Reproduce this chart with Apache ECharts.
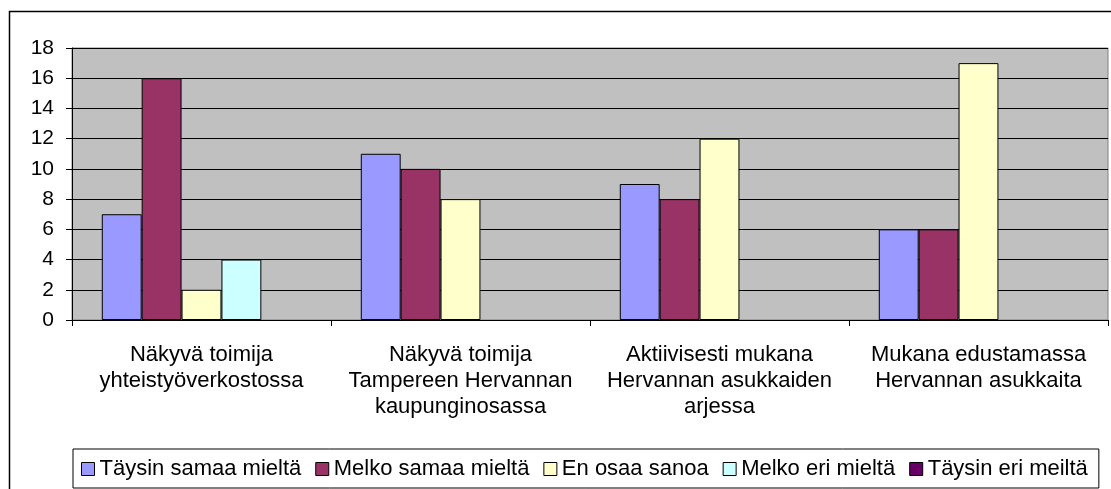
<!DOCTYPE html>
<html>
<head>
<meta charset="utf-8">
<script src="https://cdn.jsdelivr.net/npm/echarts@6/dist/echarts.min.js"></script>
<style>html,body{margin:0;padding:0;background:#fff;}#c{width:1111px;height:489px;}</style>
</head>
<body>
<div id="c"></div>
<script>
var categories = [
  'Näkyvä toimija\nyhteistyöverkostossa',
  'Näkyvä toimija\nTampereen Hervannan\nkaupunginosassa',
  'Aktiivisesti mukana\nHervannan asukkaiden\narjessa',
  'Mukana edustamassa\nHervannan asukkaita'
];
var seriesNames = ['Täysin samaa mieltä', 'Melko samaa mieltä', 'En osaa sanoa', 'Melko eri mieltä', 'Täysin eri meiltä'];
var taysinSamaa = [7, 11, 9, 6];
var melkoSamaa = [16, 10, 8, 6];
var enOsaa = [2, 8, 12, 17];
var melkoEri = [4, '-', '-', '-'];
var taysinEri = ['-', '-', '-', '-'];
var colors = ['#9999FF', '#993366', '#FFFFCC', '#CCFFFF', '#660066'];
var yTicks = [0, 2, 4, 6, 8, 10, 12, 14, 16, 18];

var allData = [taysinSamaa, melkoSamaa, enOsaa, melkoEri, taysinEri];
var font = 'Arial, "Liberation Sans", sans-serif';

var chart = echarts.init(document.getElementById('c'), null, {renderer: 'canvas'});
chart.setOption({
  animation: false,
  backgroundColor: '#fff',
  color: colors,
  graphic: [{
    type: 'rect',
    shape: {x: 9.5, y: 11.5, width: 1120, height: 500},
    style: {fill: 'none', stroke: '#000', lineWidth: 1.5},
    silent: true,
    z: -1
  }],
  grid: {
    left: 72, right: 3, top: 48, bottom: 169,
    show: true, backgroundColor: '#C0C0C0', borderColor: '#808080', borderWidth: 1
  },
  legend: {
    bottom: 1, left: 73,
    padding: [9, 11, 8, 8],
    borderColor: '#000', borderWidth: 1,
    itemWidth: 13, itemHeight: 13, itemGap: 14,
    icon: 'rect',
    textStyle: {fontFamily: font, fontSize: 22, color: '#000'},
    itemStyle: {borderColor: '#000', borderWidth: 1},
    data: seriesNames
  },
  xAxis: {
    type: 'category',
    data: categories,
    axisLine: {lineStyle: {color: '#000', width: 1}},
    axisTick: {show: true, length: 6, inside: false, lineStyle: {color: '#000'}},
    axisLabel: {fontFamily: font, fontSize: 22, color: '#000', lineHeight: 26, margin: 22, interval: 0, align: 'center'},
    splitLine: {show: false}
  },
  yAxis: {
    type: 'value',
    min: yTicks[0], max: yTicks[yTicks.length - 1], interval: 2,
    axisLine: {show: true, lineStyle: {color: '#000', width: 1}},
    axisTick: {show: true, length: 6, inside: false, lineStyle: {color: '#000'}},
    axisLabel: {fontFamily: font, fontSize: 21, color: '#000', margin: 18},
    splitLine: {show: true, lineStyle: {color: '#000', width: 1}}
  },
  series: seriesNames.map(function (n, i) {
    return {
      name: n,
      type: 'bar',
      data: allData[i],
      barGap: '0%',
      barCategoryGap: '23%',
      itemStyle: {color: colors[i], borderColor: '#000', borderWidth: 1}
    };
  })
});
</script>
</body>
</html>
